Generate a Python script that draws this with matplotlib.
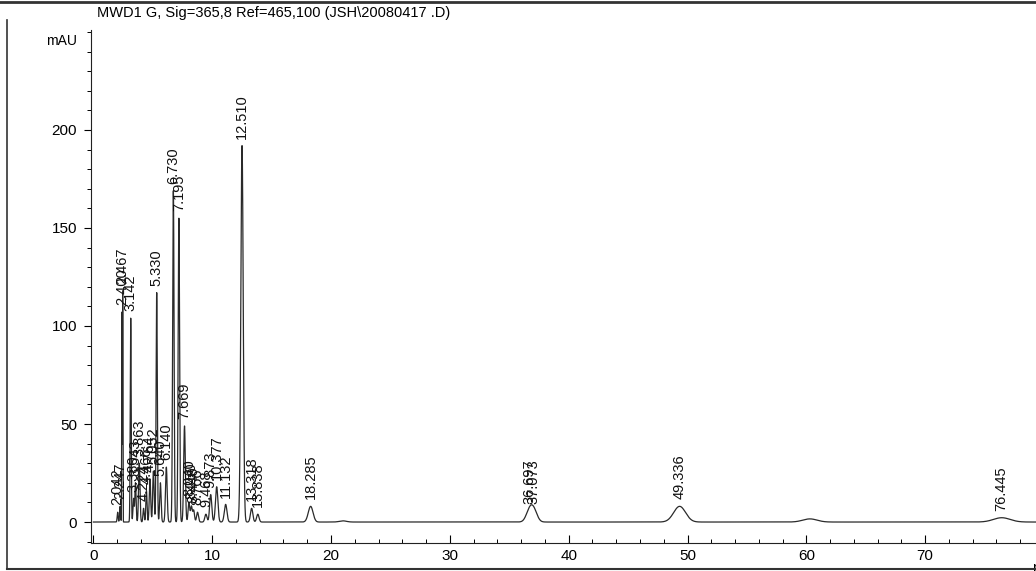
import numpy as np
import matplotlib.pyplot as plt
from matplotlib.lines import Line2D

plt.rcParams["font.family"] = ["Liberation Sans", "DejaVu Sans"]

TITLE = "MWD1 G, Sig=365,8 Ref=465,100 (JSH\\20080417 .D)"

# peak table: retention time (min), height (mAU), width (sigma, min)
rt = [2.042, 2.247, 2.400, 2.467, 3.142, 3.380, 3.543, 3.863, 4.224, 4.466,
      4.764, 5.052, 5.330, 5.640, 6.140, 6.730, 7.195, 7.669, 8.040, 8.250,
      8.440, 8.766, 9.468, 9.873, 10.377, 11.132, 12.510, 13.318, 13.838,
      18.285, 36.697, 37.073, 49.336, 76.445]
height = [5, 8, 107, 118, 104, 12, 20, 30, 7, 16,
          22, 26, 117, 20, 28, 169, 155, 49, 10, 8,
          6, 5, 4, 14, 18, 9, 192, 7, 4,
          8, 5.5, 5.5, 8, 2.2]
width = [0.04, 0.04, 0.018, 0.018, 0.04, 0.05, 0.05, 0.06, 0.05, 0.05,
         0.06, 0.06, 0.05, 0.06, 0.07, 0.06, 0.06, 0.07, 0.07, 0.07,
         0.07, 0.08, 0.09, 0.09, 0.1, 0.11, 0.1, 0.1, 0.1,
         0.2, 0.28, 0.28, 0.5, 0.7]

# small unlabeled bumps
extra_rt = [21.0, 60.3]
extra_h = [0.6, 1.6]
extra_w = [0.3, 0.6]

t = np.arange(0, 80.2, 0.002)
signal = np.zeros_like(t)
for r, h, w in zip(rt + extra_rt, height + extra_h, width + extra_w):
    signal += h * np.exp(-0.5 * ((t - r) / w) ** 2)

fig = plt.figure(figsize=(10.36, 5.71), dpi=100)
ax = fig.add_axes([91 / 1036, 1 - 543 / 571, 1 - 91 / 1036 + 0.01, (543 - 30) / 571])

ax.plot(t, signal, color="#2a2a2a", linewidth=0.9)

for r, h in zip(rt, height):
    ax.text(r, h + 3.5, f"{r:.3f}", rotation=90, ha="center", va="bottom",
            fontsize=10.5, color="#111111")

ax.set_xlim(-0.2, 80.2)
ax.set_ylim(-10.7, 251)

ax.set_xticks(np.arange(0, 80, 10))
ax.set_xticks(np.arange(0, 81, 2), minor=True)
ax.set_yticks(np.arange(0, 201, 50))
ax.set_yticks(np.arange(-10, 251, 10), minor=True)
ax.tick_params(axis="x", which="major", direction="in", length=6, width=0.8,
               labelsize=11, pad=4)
ax.tick_params(axis="x", which="minor", direction="in", length=3, width=0.7)
ax.tick_params(axis="y", which="major", direction="out", length=5, width=0.8,
               labelsize=11, pad=5)
ax.tick_params(axis="y", which="minor", direction="out", length=3, width=0.7)

for side in ("top", "right"):
    ax.spines[side].set_visible(False)
for side in ("left", "bottom"):
    ax.spines[side].set_linewidth(0.8)
    ax.spines[side].set_color("#222222")

fig.text(77 / 1036, 1 - 41 / 571, "mAU", ha="right", va="center", fontsize=10)
ax.text(79.0, -0.035, "min", transform=ax.get_xaxis_transform(), ha="left",
        va="top", fontsize=11)

fig.text(97 / 1036, 1 - 13 / 571, TITLE, ha="left", va="center", fontsize=10.5)

# page frame around the printout
fig.add_artist(Line2D([0, 1], [1 - 1.5 / 571, 1 - 1.5 / 571], color="#333333",
                      linewidth=2, transform=fig.transFigure))
fig.add_artist(Line2D([7 / 1036, 7 / 1036], [1 - 20 / 571, 2 / 571], color="#333333",
                      linewidth=1.2, transform=fig.transFigure))
fig.add_artist(Line2D([7 / 1036, 1], [2 / 571, 2 / 571], color="#333333",
                      linewidth=1.5, transform=fig.transFigure))

fig.savefig("out.png", dpi=100)
